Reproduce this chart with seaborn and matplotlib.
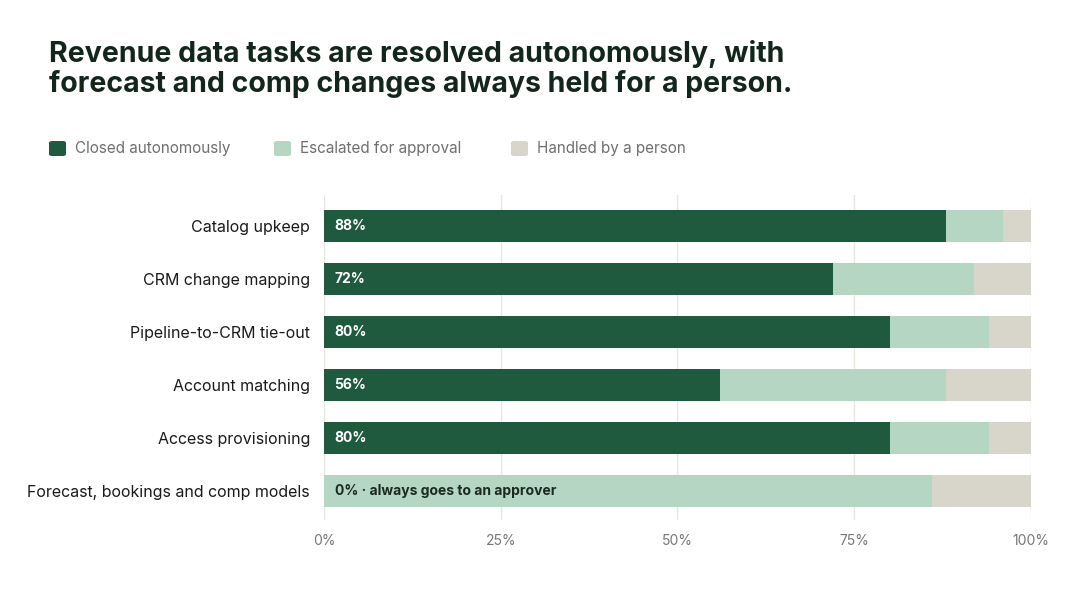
import numpy as np
import pandas as pd
import seaborn as sns
import matplotlib.pyplot as plt
from matplotlib.patches import FancyBboxPatch

tasks = ["Catalog upkeep", "CRM change mapping", "Pipeline-to-CRM tie-out",
         "Account matching", "Access provisioning", "Forecast, bookings and comp models"]
closed = [88, 72, 80, 56, 80, 0]
escalated = [8, 20, 14, 32, 14, 86]
person = [4, 8, 6, 12, 6, 14]
series = ["Closed autonomously", "Escalated for approval", "Handled by a person"]
colors = ["#1f5a3e", "#b5d6c3", "#d8d5ca"]
xticks = [0, 25, 50, 75, 100]

sns.set_theme(style="white")
plt.rcParams['font.family'] = ['Inter', 'DejaVu Sans']

df = pd.DataFrame({"task": tasks, "closed": closed, "escalated": escalated, "person": person})
df["c1"] = df["closed"]
df["c2"] = df["closed"] + df["escalated"]
df["c3"] = df["c2"] + df["person"]

fig = plt.figure(figsize=(10.8, 5.96), dpi=100)
ax = fig.add_axes([0.3, 0.1275, 0.6546, 0.5453])

# stacked by drawing cumulative totals back to front
for col, c in zip(["c3", "c2", "c1"], colors[::-1]):
    sns.barplot(data=df, x=col, y="task", color=c, width=0.6, ax=ax,
                saturation=1, linewidth=0, edgecolor="none", zorder=3)

ax.set_xlim(0, 100)
ax.set_ylim(5.547, -0.585)
ax.set_xticks(xticks)
ax.set_xticklabels([f"{t}%" for t in xticks], color="#777777", fontsize=10)
ax.tick_params(axis="x", length=0, pad=10)
ax.tick_params(axis="y", length=0, pad=10, labelsize=11.5, labelcolor="#1a1a1a")
ax.set_xlabel("")
ax.set_ylabel("")
for s in ax.spines.values():
    s.set_visible(False)
ax.grid(axis="x", color="#e8e6df", linewidth=1, zorder=0)
ax.set_axisbelow(True)

for i, v in enumerate(closed):
    if v > 0:
        ax.text(1.5, i, f"{v}%", color="white", fontsize=10, fontweight="bold",
                va="center", ha="left", zorder=5)
    else:
        ax.text(1.5, i, "0% · always goes to an approver", color="#1a2a22",
                fontsize=10, fontweight="bold", va="center", ha="left", zorder=5)

fig.text(49 / 1080, 1 - 40 / 596, "Revenue data tasks are resolved autonomously, with\n"
         "forecast and comp changes always held for a person.",
         fontsize=20.5, fontweight="bold", color="#13261c", va="top", ha="left",
         linespacing=1.1)

# legend
legx = [49, 274, 511]
for x0, lab, c in zip(legx, series, colors):
    fig.patches.append(FancyBboxPatch((x0 / 1080, 1 - 156 / 596), 17 / 1080, 15 / 596,
                                      boxstyle="round,pad=0,rounding_size=0.003",
                                      transform=fig.transFigure, facecolor=c,
                                      edgecolor="none"))
    fig.text((x0 + 26) / 1080, 1 - 148.5 / 596, lab, fontsize=11, color="#6f6f6f",
             va="center", ha="left")

fig.savefig("out.png", dpi=100)
